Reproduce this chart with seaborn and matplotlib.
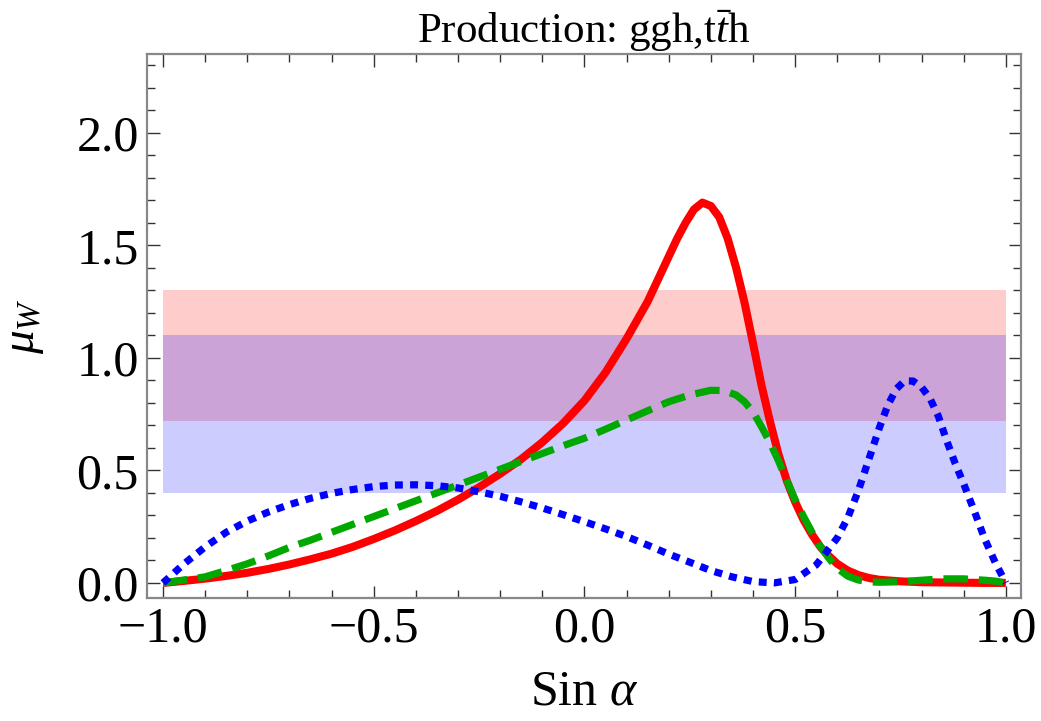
import matplotlib
matplotlib.use("Agg")
import matplotlib.pyplot as plt
from matplotlib.ticker import MultipleLocator
import seaborn as sns
import pandas as pd

# ---- data ----
red_x = [-1.00, -0.95, -0.90, -0.85, -0.80, -0.75, -0.70, -0.65, -0.60, -0.55,
         -0.50, -0.45, -0.40, -0.35, -0.30, -0.25, -0.20, -0.15, -0.10, -0.05,
         0.00, 0.05, 0.10, 0.15, 0.20, 0.22, 0.24, 0.26, 0.28, 0.30,
         0.32, 0.34, 0.36, 0.38, 0.40, 0.42, 0.44, 0.46, 0.48, 0.50,
         0.52, 0.54, 0.56, 0.58, 0.60, 0.625, 0.65, 0.675, 0.70, 0.75,
         0.80, 0.85, 0.90, 0.95, 1.00]
red_y = [0.0, 0.009, 0.019, 0.031, 0.045, 0.062, 0.082, 0.105, 0.13, 0.16,
         0.195, 0.233, 0.275, 0.32, 0.37, 0.425, 0.485, 0.55, 0.625, 0.71,
         0.81, 0.935, 1.085, 1.25, 1.45, 1.53, 1.60, 1.66, 1.69, 1.675,
         1.625, 1.53, 1.40, 1.245, 1.065, 0.88, 0.72, 0.575, 0.455, 0.36,
         0.28, 0.215, 0.16, 0.12, 0.085, 0.055, 0.035, 0.022, 0.014, 0.007,
         0.003, 0.002, 0.001, 0.0, 0.0]

green_x = [-1.00, -0.95, -0.90, -0.85, -0.80, -0.75, -0.70, -0.65, -0.60, -0.55,
           -0.50, -0.45, -0.40, -0.35, -0.30, -0.25, -0.20, -0.15, -0.10, -0.05,
           0.00, 0.05, 0.10, 0.15, 0.20, 0.25, 0.30, 0.33, 0.36, 0.38,
           0.40, 0.42, 0.44, 0.46, 0.48, 0.50, 0.52, 0.54, 0.56, 0.58,
           0.60, 0.625, 0.65, 0.675, 0.70, 0.75, 0.80, 0.85, 0.90, 0.95,
           0.975, 1.00]
green_y = [0.0, 0.013, 0.027, 0.055, 0.085, 0.12, 0.158, 0.19, 0.225, 0.26,
           0.295, 0.33, 0.365, 0.40, 0.435, 0.47, 0.505, 0.54, 0.575, 0.61,
           0.643, 0.683, 0.724, 0.765, 0.805, 0.835, 0.856, 0.855, 0.835, 0.805,
           0.76, 0.695, 0.625, 0.545, 0.455, 0.37, 0.295, 0.225, 0.16, 0.11,
           0.065, 0.03, 0.013, 0.005, 0.003, 0.005, 0.012, 0.018, 0.018, 0.012,
           0.008, 0.0]

blue_x = [-1.00, -0.95, -0.90, -0.85, -0.80, -0.75, -0.70, -0.65, -0.60, -0.55,
          -0.50, -0.45, -0.40, -0.35, -0.30, -0.25, -0.20, -0.15, -0.10, -0.05,
          0.00, 0.05, 0.10, 0.15, 0.20, 0.25, 0.30, 0.35, 0.40, 0.45,
          0.50, 0.55, 0.60, 0.625, 0.65, 0.675, 0.70, 0.72, 0.74, 0.76,
          0.78, 0.80, 0.82, 0.84, 0.86, 0.88, 0.90, 0.925, 0.95, 0.975,
          1.00]
blue_y = [0.0, 0.085, 0.16, 0.225, 0.275, 0.315, 0.348, 0.376, 0.398, 0.415,
          0.428, 0.435, 0.436, 0.432, 0.422, 0.405, 0.385, 0.36, 0.333, 0.303,
          0.272, 0.24, 0.206, 0.168, 0.128, 0.092, 0.055, 0.027, 0.006, 0.0,
          0.015, 0.08, 0.2, 0.29, 0.41, 0.55, 0.69, 0.79, 0.862, 0.898,
          0.897, 0.87, 0.82, 0.74, 0.63, 0.53, 0.44, 0.32, 0.195, 0.09,
          0.0]

band_x = [-1.0, 1.0]
red_band = (0.72, 1.30)
blue_band = (0.40, 1.10)

title = "Production: ggh,t$\\bar{t}$h"
xlabel = "Sin $\\alpha$"
ylabel = "$\\mu_W$"

# ---- style ----
sns.set_style("ticks")
plt.rcParams["font.family"] = ["Liberation Serif", "DejaVu Serif"]
plt.rcParams["mathtext.fontset"] = "custom"
plt.rcParams["mathtext.rm"] = "Liberation Serif"
plt.rcParams["mathtext.it"] = "Liberation Serif:italic"
for k in ["text.color", "axes.labelcolor", "xtick.color", "ytick.color"]:
    plt.rcParams[k] = "black"

fig = plt.figure(figsize=(10.41, 7.21), dpi=100)
ax = fig.add_axes([0.1412, 0.1706, 0.8396, 0.7544])

# bands
ax.fill_between(band_x, [red_band[0]] * 2, [red_band[1]] * 2,
                color=(1, 0, 0), alpha=0.2, lw=0, zorder=1)
ax.fill_between(band_x, [blue_band[0]] * 2, [blue_band[1]] * 2,
                color=(0, 0, 1), alpha=0.2, lw=0, zorder=1)

red_df = pd.DataFrame({"x": red_x, "y": red_y})
green_df = pd.DataFrame({"x": green_x, "y": green_y})
blue_df = pd.DataFrame({"x": blue_x, "y": blue_y})

sns.lineplot(data=red_df, x="x", y="y", ax=ax, color=(1, 0, 0), lw=5.8,
             solid_capstyle="butt", solid_joinstyle="round", zorder=3)
sns.lineplot(data=green_df, x="x", y="y", ax=ax, color=(0, 0.66, 0), lw=5.2,
             linestyle=(0, (3.4, 1.5)), dash_capstyle="butt", zorder=4)
sns.lineplot(data=blue_df, x="x", y="y", ax=ax, color=(0, 0, 1), lw=5.2,
             linestyle=(0, (1.1, 1.0)), dash_capstyle="butt", zorder=5)

ax.set_xlim(-1.038, 1.036)
ax.set_ylim(-0.067, 2.35)

ax.xaxis.set_major_locator(MultipleLocator(0.5))
ax.xaxis.set_minor_locator(MultipleLocator(0.1))
ax.yaxis.set_major_locator(MultipleLocator(0.5))
ax.yaxis.set_minor_locator(MultipleLocator(0.1))
ax.xaxis.set_major_formatter(plt.FuncFormatter(lambda v, p: f"{v:.1f}".replace("-", "\u2212")))
ax.yaxis.set_major_formatter(plt.FuncFormatter(lambda v, p: f"{v:.1f}"))

ax.tick_params(which="both", direction="in", top=True, right=True,
               color="#333333", width=1.0, labelcolor="black")
ax.tick_params(which="major", length=9, labelsize=36, pad=6)
ax.tick_params(which="minor", length=5.5)

for s in ax.spines.values():
    s.set_color("#888888")
    s.set_linewidth(1.6)

ax.set_title(title, fontsize=31, pad=8, color="black")
ax.set_xlabel(xlabel, fontsize=36, labelpad=12, color="black")
ax.set_ylabel(ylabel, fontsize=34, labelpad=22, color="black")

fig.savefig("out.png", dpi=100)
